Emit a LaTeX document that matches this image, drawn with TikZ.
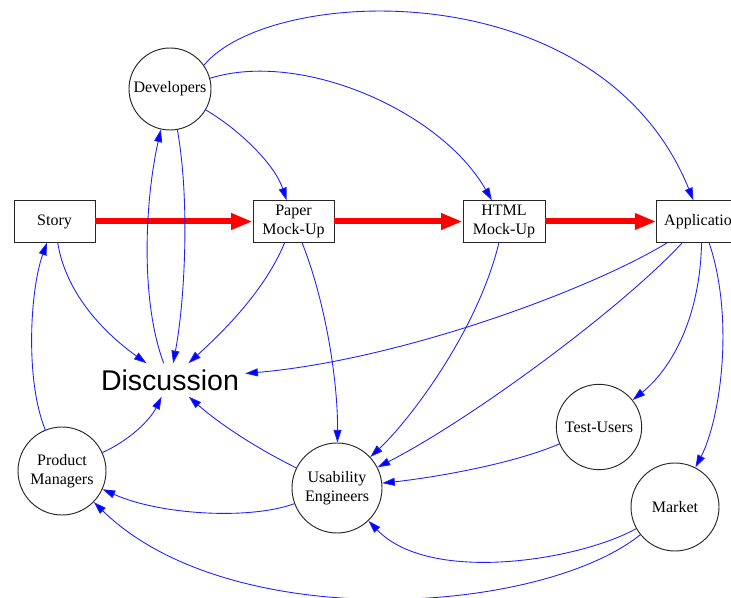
\documentclass[tikz,border=0pt]{standalone}
\usepackage{fontspec}
\setmainfont{Liberation Serif}
\newfontfamily\discfont{Liberation Sans}
\usetikzlibrary{arrows.meta}
\tikzset{
  boxnode/.style={draw=black!85, line width=0.7pt, rectangle, minimum width=60.75pt, minimum height=31pt, inner sep=1pt, align=center, font=\fontsize{12}{14.25}\selectfont},
  circnode/.style={draw=black!85, line width=0.7pt, circle, inner sep=0pt, align=center, font=\fontsize{12}{14.25}\selectfont},
  bl/.style={draw={rgb,255:red,30;green,30;blue,255}, line width=0.65pt, -{Triangle[length=9.5pt,width=6pt,fill=blue]}},
  rd/.style={draw=red, line width=4.5pt, -{Triangle[length=16pt,width=11.5pt]}},
}
\begin{document}
\begin{tikzpicture}[x=0.75pt,y=-0.75pt]
\useasboundingbox (0,0) rectangle (731,598);
\clip (0,0) rectangle (731,598);
\fill[white] (0,0) rectangle (731,598);
% nodes
\node[circnode, minimum size=61.5pt] (dev) at (170,89) {Developers};
\node[boxnode] (story) at (54.5,221.5) {Story};
\node[boxnode] (paper) at (293.5,221.5) {Paper\\Mock-Up};
\node[boxnode, minimum width=61.5pt] (html) at (504,221.5) {HTML\\Mock-Up};
\node[boxnode, minimum width=68pt] (app) at (702,221.5) {Application};
\node[inner sep=4.5pt, font=\discfont\fontsize{21.4}{24}\selectfont] (disc) at (170,380) {Discussion};
\node[circnode, minimum size=66pt] (pm) at (62,471) {Product\\Managers};
\node[circnode, minimum size=67.5pt] (ue) at (337,488) {Usability\\Engineers};
\node[circnode, minimum size=64pt] (tu) at (599,427) {Test-Users};
\node[circnode, minimum size=66pt] (mk) at (675,507) {Market};
% red pipeline
\draw[rd] (story) -- (paper);
\draw[rd] (paper) -- (html);
\draw[rd] (html) -- (app);
% blue connectors
\draw[bl] (dev.35) .. controls (270,-15) and (600,-30) .. (app);
\draw[bl] (dev.15) .. controls (300,50) and (440,110) .. (html);
\draw[bl] (dev) .. controls (240,130) and (275,165) .. (paper);
\draw[bl] (dev) .. controls (190,200) and (185,300) .. (disc);
\draw[bl] (disc) .. controls (140,300) and (145,200) .. (dev);
\draw[bl] (story) .. controls (65,290) and (100,330) .. (disc);
\draw[bl] (paper) .. controls (265,290) and (225,330) .. (disc);
\draw[bl] (paper) .. controls (325,300) and (338,380) .. (ue);
\draw[bl] (html) .. controls (478,330) and (410,420) .. (ue);
\draw[bl] (app) .. controls (590,290) and (400,360) .. (disc);
\draw[bl] (app) .. controls (620,310) and (470,420) .. (ue);
\draw[bl] (app) .. controls (700,320) and (670,370) .. (tu);
\draw[bl] (app) .. controls (735,320) and (720,420) .. (mk);
\draw[bl] (tu) .. controls (510,465) and (430,478) .. (ue);
\draw[bl] (pm) .. controls (25,380) and (30,290) .. (story);
\draw[bl] (pm) .. controls (130,440) and (150,420) .. (disc);
\draw[bl] (ue) .. controls (250,445) and (215,420) .. (disc);
\draw[bl] (ue) .. controls (250,520) and (160,515) .. (pm);
\draw[bl] (mk) .. controls (580,560) and (430,585) .. (ue);
\draw[bl] (mk) .. controls (540,615) and (230,635) .. (pm);
\end{tikzpicture}
\end{document}
